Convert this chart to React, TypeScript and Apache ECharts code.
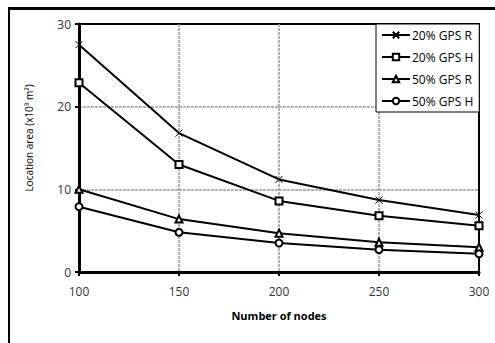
import React, { useEffect, useRef } from "react";
import * as echarts from "echarts";

const nodes = [100, 150, 200, 250, 300];
const gps20R = [27.5, 16.8, 11.2, 8.7, 6.9];
const gps20H = [22.9, 13.0, 8.6, 6.8, 5.6];
const gps50R = [10.0, 6.4, 4.7, 3.6, 3.0];
const gps50H = [7.9, 4.8, 3.5, 2.7, 2.2];
const seriesNames = ["20% GPS R", "20% GPS H", "50% GPS R", "50% GPS H"];
const xTitle = "Number of nodes";
const yTitle = "Location area (x10³ m²)";

const FONT = "Open Sans";

export default function App() {
  const ref = useRef<HTMLDivElement>(null);
  useEffect(() => {
    if (!ref.current) return;
    const chart = echarts.init(ref.current, null, { renderer: "svg" });
    const mk = (d: number[]) => nodes.map((x, i) => [x, d[i]]);
    const base = {
      type: "line",
      color: "#000",
      lineStyle: { color: "#000", width: 2 },
      symbolSize: 7,
      z: 3,
    };
    chart.setOption({
      animation: false,
      backgroundColor: "#fff",
      textStyle: { fontFamily: FONT },
      grid: {
        left: 79,
        top: 24,
        right: 16,
        bottom: 71,
        show: true,
        borderColor: "#000",
        borderWidth: 2,
        backgroundColor: "transparent",
      },
      legend: {
        orient: "vertical",
        left: 376,
        top: 24,
        padding: [5, 6, 5, 5],
        itemWidth: 28,
        itemHeight: 8,
        itemGap: 10,
        backgroundColor: "#fff",
        borderColor: "#000",
        borderWidth: 1,
        textStyle: { fontFamily: FONT, fontSize: 12, color: "#000", padding: [0, 0, 0, -3] },
        data: seriesNames,
        z: 10,
      },
      xAxis: {
        type: "value",
        min: 100,
        max: 300,
        interval: 50,
        name: xTitle,
        nameLocation: "middle",
        nameGap: 38,
        nameTextStyle: { fontFamily: FONT, fontSize: 11, fontWeight: "bold", color: "#000" },
        axisLine: { show: true, lineStyle: { color: "#000", width: 3 } },
        axisTick: { show: true, length: 4, lineStyle: { color: "#000", width: 2 } },
        axisLabel: { fontFamily: FONT, fontSize: 12, color: "#333", margin: 13 },
        splitLine: {
          show: true,
          showMinLine: false,
          showMaxLine: false,
          lineStyle: { color: "#999", width: 1.5, type: [3, 1] },
        },
      },
      yAxis: {
        type: "value",
        min: 0,
        max: 30,
        interval: 10,
        name: yTitle,
        nameLocation: "middle",
        nameRotate: 90,
        nameGap: 45,
        nameTextStyle: { fontFamily: FONT, fontSize: 10, color: "#000", padding: [0, 0, 0, 20] },
        axisLine: { show: true, lineStyle: { color: "#000", width: 3 } },
        axisTick: { show: true, length: 4, lineStyle: { color: "#000", width: 2 } },
        axisLabel: { fontFamily: FONT, fontSize: 12, color: "#333", margin: 8 },
        splitLine: {
          show: true,
          showMinLine: false,
          showMaxLine: false,
          lineStyle: { color: "#999", width: 1.5, type: [3, 1] },
        },
      },
      graphic: [
        {
          type: "line",
          shape: { x1: 8, y1: 8.5, x2: 495, y2: 8.5 },
          style: { stroke: "#000", lineWidth: 3 },
        },
        {
          type: "line",
          shape: { x1: 9, y1: 8, x2: 9, y2: 343 },
          style: { stroke: "#000", lineWidth: 2 },
        },
      ],
      series: [
        {
          ...base,
          name: seriesNames[0],
          data: mk(gps20R),
          symbol: "path://M0,0L10,10M10,0L0,10",
          itemStyle: { color: "#000", borderColor: "#000", borderWidth: 1 },
        },
        {
          ...base,
          name: seriesNames[1],
          data: mk(gps20H),
          symbol: "emptyRect",
          itemStyle: { color: "#000", borderColor: "#000", borderWidth: 1.8 },
        },
        {
          ...base,
          name: seriesNames[2],
          data: mk(gps50R),
          symbol: "emptyTriangle",
          itemStyle: { color: "#000", borderColor: "#000", borderWidth: 2 },
        },
        {
          ...base,
          name: seriesNames[3],
          data: mk(gps50H),
          symbol: "emptyCircle",
          itemStyle: { color: "#000", borderColor: "#000", borderWidth: 2 },
        },
      ],
    });
    return () => chart.dispose();
  }, []);
  return (
    <div
      ref={ref}
      style={{ position: "absolute", left: 0, top: 0, width: 495, height: 343 }}
    />
  );
}
